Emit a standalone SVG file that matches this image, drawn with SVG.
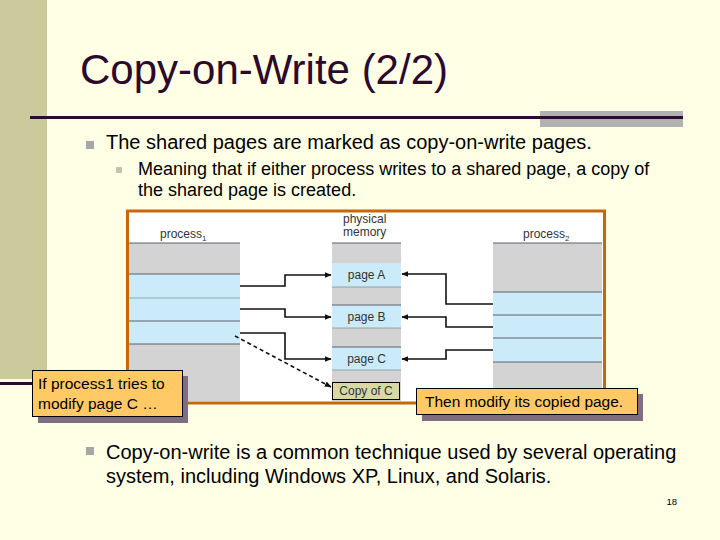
<svg xmlns="http://www.w3.org/2000/svg" width="720" height="540" viewBox="0 0 720 540">
<defs>
<style>
.sans{font-family:"Liberation Sans",Arial,sans-serif}
.body{font-family:"Liberation Sans",Arial,sans-serif;fill:#000}
.lbl{font-family:"Liberation Sans",Arial,sans-serif;font-size:12px;fill:#333}
.gray{fill:#D3D3D3}
.blue{fill:#CCEBFA}
.sep{stroke:#5A6068;stroke-width:1}
.conn{fill:none;stroke:#111;stroke-width:1.6}
.callout{fill:#FFC966;stroke:#000;stroke-width:1}
.shadow{fill:#7F6E82}
</style>
<marker id="ah" viewBox="0 0 10 10" refX="9" refY="5" markerWidth="7" markerHeight="7" markerUnits="userSpaceOnUse" orient="auto">
<path d="M0,1 L10,5 L0,9 z" fill="#111"/>
</marker>
</defs>
<rect x="0" y="0" width="720" height="540" fill="#FFFFE5"/>
<rect x="0" y="0" width="47" height="379" fill="#CACA9C"/>
<rect x="0" y="382" width="40" height="3" fill="#2E0A2E"/>
<rect x="540" y="111" width="143" height="16" fill="#B2B2B2"/>
<rect x="30" y="116" width="653" height="3" fill="#2E0A2E"/>
<text x="80" y="84" class="sans" font-size="42" fill="#2B0A2B">Copy-on-Write (2/2)</text>

<rect x="86" y="141" width="8" height="8" fill="#A6A6A6"/>
<text x="106" y="149" class="body" font-size="20">The shared pages are marked as copy-on-write pages.</text>
<rect x="116" y="167" width="6" height="6" fill="#C4C4A8"/>
<text x="138" y="175" class="body" font-size="18">Meaning that if either process writes to a shared page, a copy of</text>
<text x="138" y="196" class="body" font-size="18">the shared page is created.</text>

<g id="frame">
<rect x="127.5" y="211" width="477" height="192" fill="#FFFFFF" stroke="#C8660E" stroke-width="3"/>
</g>

<g id="process1">
<text x="160" y="238" class="lbl">process<tspan font-size="8" dy="3">1</tspan></text>
<rect x="129" y="243" width="111" height="158" class="gray"/>
<rect x="129" y="274" width="111" height="70" class="blue"/>
<line x1="129" y1="243" x2="240" y2="243" class="sep"/>
<line x1="129" y1="274" x2="240" y2="274" class="sep"/>
<line x1="129" y1="298" x2="240" y2="298" class="sep" stroke-opacity="0.5"/>
<line x1="129" y1="321" x2="240" y2="321" class="sep"/>
<line x1="129" y1="344" x2="240" y2="344" class="sep"/>
</g>

<g id="memory">
<text x="343" y="223" class="lbl">physical</text>
<text x="343" y="236" class="lbl">memory</text>
<rect x="332" y="243" width="69" height="158" class="gray"/>
<rect x="332" y="263" width="69" height="24" class="blue"/>
<rect x="332" y="305" width="69" height="23" class="blue"/>
<rect x="332" y="347" width="69" height="23" class="blue"/>
<line x1="332" y1="243" x2="401" y2="243" class="sep"/>
<line x1="332" y1="287" x2="401" y2="287" class="sep" stroke-opacity="0.5"/>
<line x1="332" y1="305" x2="401" y2="305" class="sep"/>
<line x1="332" y1="328" x2="401" y2="328" class="sep" stroke-opacity="0.5"/>
<line x1="332" y1="347" x2="401" y2="347" class="sep"/>
<line x1="332" y1="370" x2="401" y2="370" class="sep" stroke-opacity="0.5"/>
<text x="366.5" y="279" class="lbl" text-anchor="middle">page A</text>
<text x="366.5" y="321" class="lbl" text-anchor="middle">page B</text>
<text x="366.5" y="363" class="lbl" text-anchor="middle">page C</text>
</g>

<g id="copyC">
<rect x="332.5" y="382.5" width="67" height="17" fill="#D8D8A4" stroke="#000" stroke-width="1"/>
<text x="366" y="395" class="lbl" text-anchor="middle" fill="#222">Copy of C</text>
</g>

<g id="process2">
<text x="523" y="238" class="lbl">process<tspan font-size="8" dy="3">2</tspan></text>
<rect x="493" y="243" width="109" height="158" class="gray"/>
<rect x="493" y="292" width="109" height="70" class="blue"/>
<line x1="493" y1="243" x2="602" y2="243" class="sep"/>
<line x1="493" y1="292" x2="602" y2="292" class="sep"/>
<line x1="493" y1="315" x2="602" y2="315" class="sep"/>
<line x1="493" y1="338" x2="602" y2="338" class="sep"/>
<line x1="493" y1="362" x2="602" y2="362" class="sep"/>
</g>

<g id="connectors">
<polyline points="240,286 285,286 285,275 331,275" class="conn" marker-end="url(#ah)"/>
<polyline points="240,309 285,309 285,317 331,317" class="conn" marker-end="url(#ah)"/>
<polyline points="240,333 285,333 285,359 331,359" class="conn" marker-end="url(#ah)" stroke-width="2"/>
<polyline points="493,304 446,304 446,274 402,274" class="conn" marker-end="url(#ah)"/>
<polyline points="493,327 446,327 446,317 402,317" class="conn" marker-end="url(#ah)"/>
<polyline points="493,350 446,350 446,359 402,359" class="conn" marker-end="url(#ah)"/>
<line x1="235" y1="336" x2="331" y2="387" class="conn" stroke-width="3" stroke-dasharray="4,3" marker-end="url(#ah)"/>
</g>

<g id="callout1">
<rect x="38" y="376" width="150" height="47" class="shadow"/>
<rect x="32.5" y="370.5" width="150" height="46" class="callout"/>
<text x="38" y="389" class="body" font-size="15.5">If process1 tries to</text>
<text x="38" y="409" class="body" font-size="15.5">modify page C …</text>
</g>

<g id="callout2">
<rect x="422" y="394" width="221" height="27" class="shadow"/>
<rect x="416.5" y="388.5" width="221" height="26" class="callout"/>
<text x="425" y="407" class="body" font-size="15.5">Then modify its copied page.</text>
</g>

<rect x="86" y="447" width="8" height="8" fill="#A6A6A6"/>
<text x="106" y="459" class="body" font-size="20">Copy-on-write is a common technique used by several operating</text>
<text x="106" y="483" class="body" font-size="20">system, including Windows XP, Linux, and Solaris.</text>
<text x="677" y="505" class="body" font-size="9.5" text-anchor="end">18</text>
</svg>
